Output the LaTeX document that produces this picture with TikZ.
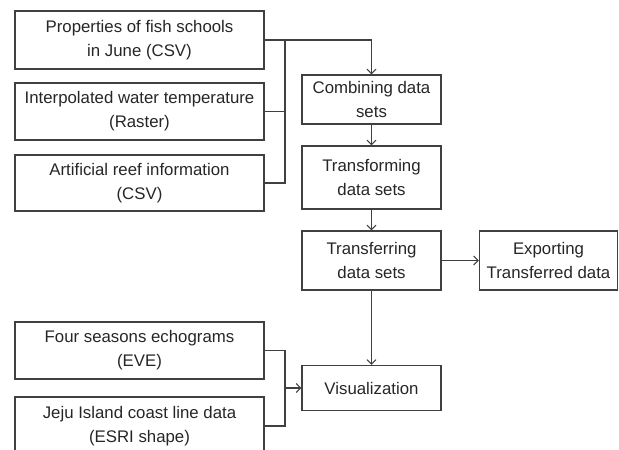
\documentclass[tikz,border=0pt]{standalone}
\usepackage{fontspec}
\setmainfont{Liberation Sans}
\usetikzlibrary{positioning,arrows.meta}

\tikzset{
  procbox/.style={draw=black!75, line width=1.1pt, align=center, inner sep=2pt,
    font=\fontsize{16.8}{24}\selectfont, text=black!85},
  flow/.style={draw=black!75, line width=1.1pt},
  arr/.style={-{Straight Barb[length=4.5pt,width=9pt]}},
}

\begin{document}
\begin{tikzpicture}[x=1pt,y=-1pt]
\useasboundingbox (0,0) rectangle (619,450);
\clip (0,0) rectangle (619,450);
% input data
\node[procbox, minimum width=249pt, minimum height=58pt] (props) at (139.5,40) {Properties of fish schools\\in June (CSV)};
\node[procbox, minimum width=249pt, minimum height=57pt] (interp) at (139.5,111.5) {Interpolated water temperature\\(Raster)};
\node[procbox, minimum width=249pt, minimum height=56pt] (reef) at (139.5,183) {Artificial reef information\\(CSV)};
\node[procbox, minimum width=249pt, minimum height=57pt] (four) at (139.5,350.5) {Four seasons echograms\\(EVE)};
\node[procbox, minimum width=249pt, minimum height=58pt] (jeju) at (139.5,426) {Jeju Island coast line data\\(ESRI shape)};
% processing steps
\node[procbox, minimum width=139pt, minimum height=49pt] (comb) at (371.5,99.5) {Combining data\\sets};
\node[procbox, minimum width=139pt, minimum height=63pt] (transf) at (371.5,177.5) {Transforming\\data sets};
\node[procbox, minimum width=139pt, minimum height=59pt] (transfer) at (371.5,260.5) {Transferring\\data sets};
\node[procbox, minimum width=138pt, minimum height=59pt] (export) at (548.5,260.5) {Exporting\\Transferred data};
\node[procbox, minimum width=139pt, minimum height=45pt] (vis) at (371.5,388) {Visualization};
% bus lines
\coordinate (bus) at (285,40);
\coordinate (busb) at (285,388);
\draw[flow] (interp.east) -- (interp.east -| bus);
\draw[flow] (reef.east) -| (bus);
\draw[flow,arr] (props.east) -| (comb.north);
\draw[flow] (four.east) -| (busb);
\draw[flow] (jeju.east) -| (busb);
\draw[flow,arr] (busb) -- (vis.west);
% main flow
\draw[flow,arr] (comb) -- (transf);
\draw[flow,arr] (transf) -- (transfer);
\draw[flow,arr] (transfer) -- (export);
\draw[flow,arr] (transfer) -- (vis);
\end{tikzpicture}
\end{document}
